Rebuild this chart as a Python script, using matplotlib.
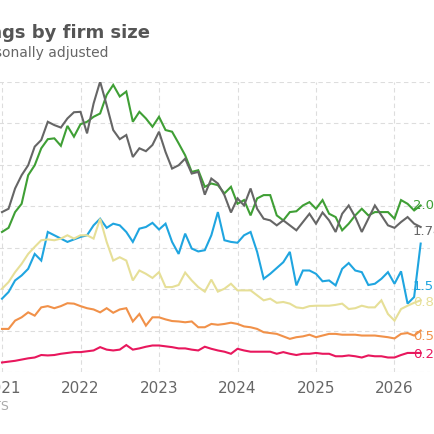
import numpy as np
import pandas as pd
import matplotlib
matplotlib.use("Agg")
import matplotlib.pyplot as plt

# Monthly series, Jan 2021 - May 2026 (relative scale)
months = pd.date_range("2021-01-01", "2026-05-01", freq="MS")

green = [33.8, 34.8, 38.6, 40.6, 47.5, 49.9, 54.0, 56.2, 56.4, 54.6, 59.4, 56.8, 59.8, 60.4, 61.6, 62.4,
         66.9, 69.3, 66.5, 67.7, 60.4, 62.8, 61.2, 59.2, 61.6, 58.4, 58.0, 55.2, 52.3, 48.3, 48.7, 44.7,
         45.5, 45.1, 43.1, 44.7,
         40.6, 41.5, 37.8, 41.9, 42.7, 42.7, 37.8, 36.6, 38.6, 38.8, 40.2, 41.0, 39.4, 41.5, 38.2, 37.4,
         34.2, 35.8, 37.8, 39.4, 37.8, 38.6, 38.6, 38.6, 37.0, 41.5, 40.6, 39.0, 40.2]
gray = [38.6, 39.4, 44.3, 47.5, 49.9, 54.4, 56.0, 60.4, 59.6, 59.0, 61.2, 62.7, 62.8, 57.6, 64.8, 70.1,
        64.4, 58.4, 56.2, 57.2, 51.9, 54.0, 53.3, 54.8, 58.0, 53.1, 49.1, 49.9, 51.5, 47.9, 48.3, 42.8,
        46.7, 45.5, 42.7, 38.5,
        41.9, 40.2, 44.3, 39.4, 37.0, 36.6, 35.4, 36.6, 35.4, 34.2, 36.2, 38.2, 35.8, 38.5, 36.6, 33.8,
        38.2, 40.2, 37.4, 33.8, 37.0, 40.2, 37.8, 35.4, 34.8, 36.2, 37.4, 35.8, 35.0]
blue = [17.7, 19.3, 22.1, 23.3, 24.9, 28.5, 26.9, 33.8, 33.0, 32.2, 31.4, 32.0, 32.6, 33.0, 35.4, 37.0,
        34.8, 35.8, 35.4, 33.8, 31.4, 34.6, 35.0, 36.0, 34.4, 35.8, 31.4, 28.5, 33.4, 29.8, 29.1, 29.4,
        33.0, 38.6, 31.8, 31.4, 31.2,
        33.0, 33.8, 29.0, 22.5, 23.7, 25.1, 26.5, 29.0, 20.9, 24.5, 24.5, 23.7, 21.9, 22.1, 20.9, 24.9,
        26.3, 24.5, 24.1, 21.0, 21.3, 22.5, 24.1, 21.3, 24.3, 16.5, 18.1, 31.0]
yellow = [20.1, 21.7, 24.1, 26.1, 28.5, 30.2, 31.8, 32.0, 31.8, 32.2, 33.0, 32.2, 33.0, 33.0, 32.2, 37.0,
          31.4, 26.9, 27.7, 26.9, 22.1, 24.5, 23.7, 22.7, 24.1, 20.5, 20.5, 21.0, 24.0, 22.1, 20.5, 19.4,
          22.3, 19.4, 20.1, 21.3, 19.7,
          19.7, 19.7, 18.5, 17.3, 17.7, 16.7, 16.9, 16.5, 15.6, 15.4, 15.9, 16.0, 16.0, 16.0, 16.2, 16.5,
          15.2, 15.4, 16.0, 15.6, 15.6, 17.3, 14.0, 12.4, 15.2, 16.0, 16.7, 17.3]
orange = [10.4, 10.4, 12.4, 13.2, 14.4, 13.6, 15.6, 15.9, 15.4, 15.9, 16.6, 16.5, 15.9, 15.4, 15.1, 14.4,
          15.4, 14.3, 15.1, 15.4, 12.2, 14.0, 11.2, 13.2, 13.2, 12.7, 12.3, 12.2, 12.0, 12.2, 10.8, 10.8,
          11.6, 11.4, 11.6, 11.9, 11.6,
          11.0, 10.8, 10.4, 9.6, 9.4, 9.2, 8.6, 8.0, 8.4, 8.6, 9.0, 8.4, 8.8, 9.2, 9.2, 9.0, 9.0, 9.0,
          8.8, 8.8, 8.8, 8.6, 8.4, 8.1, 9.2, 9.4, 8.8, 10.0]
pink = [2.3, 2.5, 2.7, 3.0, 3.3, 3.5, 4.1, 4.0, 4.1, 4.4, 4.6, 4.8, 4.8, 5.0, 5.2, 6.0, 5.4, 5.2, 5.4,
        6.5, 5.4, 5.7, 6.1, 6.4, 6.4, 6.2, 6.0, 5.7, 5.7, 5.4, 5.2, 6.1, 5.6, 5.2, 4.9, 4.4, 5.6,
        5.2, 4.9, 4.9, 4.9, 4.9, 4.4, 4.8, 4.4, 4.1, 4.4, 4.4, 4.6, 4.4, 4.4, 3.8, 3.8, 4.0, 3.8, 3.5,
        4.0, 3.8, 3.8, 3.5, 3.5, 4.1, 4.6, 4.6, 4.6]

series = [
    (green, "#3f9f35", "2.00", 206),
    (gray, "#666666", "1.74", 232),
    (blue, "#1fa5e0", "1.53", 286),
    (yellow, "#e6df97", "0.85", 303),
    (orange, "#f19149", "0.56", 337),
    (pink, "#e8175d", "0.23", 355),
]
years = [2021, 2022, 2023, 2024, 2025, 2026]

W = H = 435
fig = plt.figure(figsize=(4.35, 4.35), dpi=100)
# axes extends past left edge of the canvas (reference is a crop)
left_px, right_px = -60, 430
ax = fig.add_axes([left_px / W, (H - 373) / H, (right_px - left_px) / W, 290 / H])

t = months.year + (months.month - 1) / 12
for vals, col, lab, ly in series:
    ax.plot(t, vals, color=col, lw=1.5, solid_joinstyle="miter")
    fig.text(413 / W, 1 - ly / H, lab, color=col, fontsize=9.5, va="center", ha="left")

px_per_year = 78.5
ax.set_xlim(2021 + (left_px - 2) / px_per_year, 2021 + (right_px - 2) / px_per_year)
ax.set_ylim(0, 70)
ax.set_xticks(years)
ax.set_xticklabels([str(y) for y in years])
ax.set_yticks(np.arange(0, 71, 10))
ax.set_yticklabels([])
ax.grid(True, color="#dddddd", ls=(0, (4, 3)), lw=0.8)
ax.set_axisbelow(True)
for s in ax.spines.values():
    s.set_visible(False)
ax.tick_params(length=0, labelsize=11, labelcolor="#666666", pad=6)

fig.text(151 / W, 1 - 38 / H, "Job openings by firm size", ha="right", fontsize=13,
         fontweight="bold", color="#555555")
fig.text(109 / W, 1 - 57 / H, "Seasonally adjusted", ha="right", fontsize=10, color="#666666")
fig.text(9 / W, 1 - 410 / H, "Source: JOLTS", ha="right", fontsize=9, color="#aaaaaa")

fig.savefig("out.png", dpi=100)
